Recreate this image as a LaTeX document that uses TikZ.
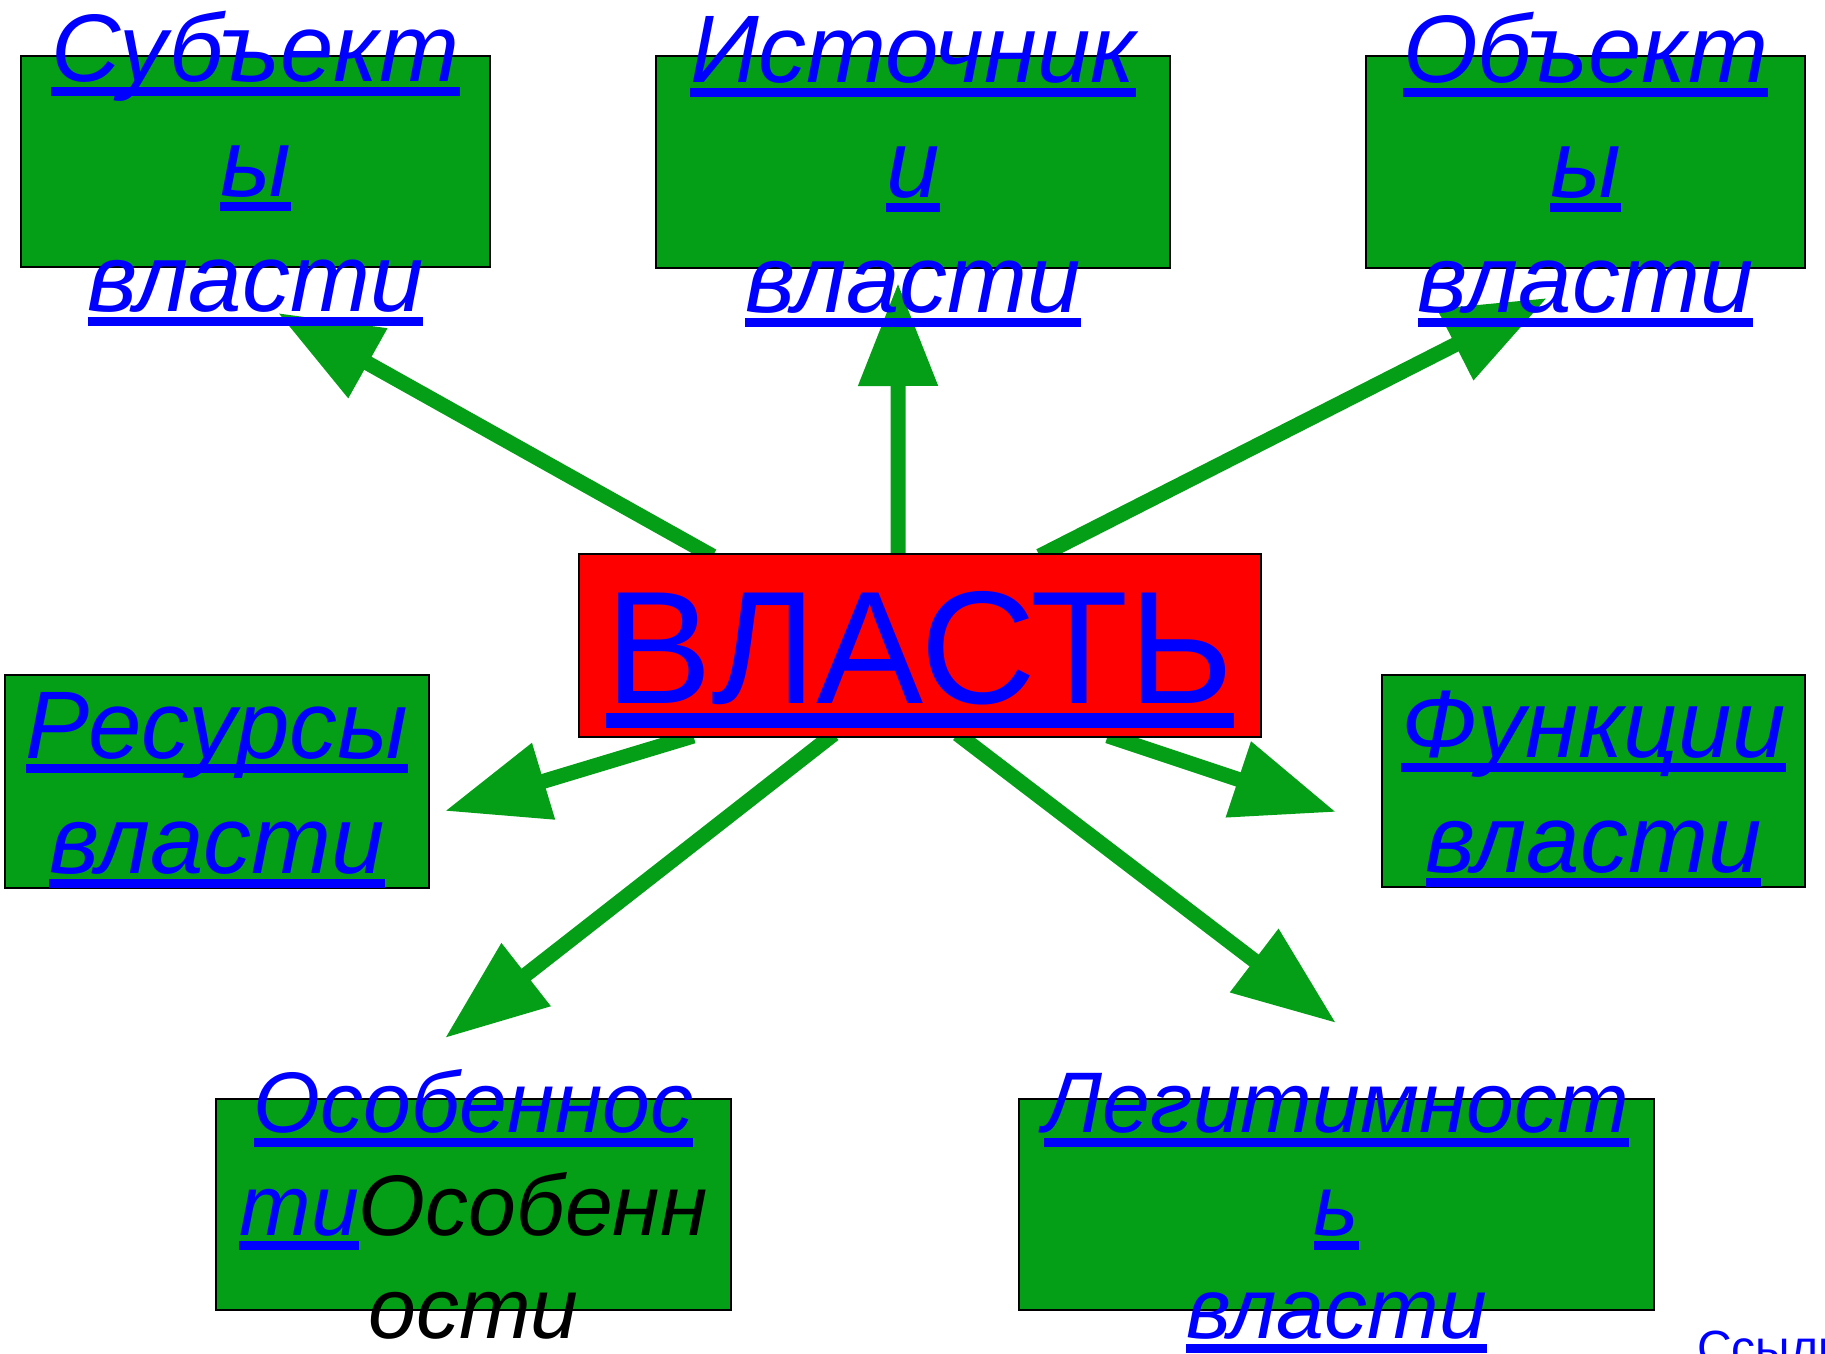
\documentclass[tikz,border=0pt]{standalone}
\usepackage{fontspec}
\setmainfont{Liberation Sans}
\usetikzlibrary{arrows.meta,calc,backgrounds}
\definecolor{grn}{RGB}{4,158,23}
\definecolor{lnkblue}{RGB}{0,0,255}
\newcommand{\lnk}[1]{\setbox0\hbox{#1}\rlap{\rule[-14.5pt]{\wd0}{9pt}}\box0}
\newcommand{\biglnk}[1]{\setbox0\hbox{#1}\rlap{\rule[-25pt]{\wd0}{15pt}}\box0}
\tikzset{
  box/.style 2 args={draw=black, line width=1.5pt, fill=grn, inner sep=0pt,
    minimum width=#1, minimum height=#2},
  lbl/.style={lnkblue, inner sep=0pt, align=center, anchor=base,
    font=\fontsize{96}{115}\selectfont\itshape},
  lblsmall/.style={lbl, font=\fontsize{86}{103}\selectfont\itshape},
  arr/.style={grn, line width=15pt, -{Triangle[length=103pt,width=76pt]},
    shorten <=-6pt}
}

\begin{document}
\begin{tikzpicture}[x=1pt, y=-1pt]
\useasboundingbox (0,0) rectangle (1825,1354);
% Boxes
    \node[box={469pt}{211pt}] (subj) at (255.5,161.5) {};
    \node[box={514pt}{212pt}] (ist) at (913,162) {};
    \node[box={439pt}{212pt}] (obj) at (1585.5,162) {};
    \node[box={424pt}{213pt}] (res) at (217,781.5) {};
    \node[box={423pt}{212pt}] (fun) at (1593.5,781) {};
    \node[box={515pt}{211pt}] (osob) at (473.5,1204.5) {};
    \node[box={635pt}{211pt}] (leg) at (1336.5,1204.5) {};
    \node[box={682pt}{183pt}, fill=red] (vl) at (920,645.5) {};
% Labels (base = last line)
    \node[lbl] (subjt) at ([yshift=-150pt]subj.center) {\lnk{Субъект}\\\lnk{ы}\\\lnk{власти}};
    \node[lbl] (istt) at ([yshift=-150pt]ist.center) {\lnk{Источник}\\\lnk{и}\\\lnk{власти}};
    \node[lbl] (objt) at ([yshift=-150pt]obj.center) {\lnk{Объект}\\\lnk{ы}\\\lnk{власти}};
    \node[lbl] (rest) at ([yshift=-91.5pt]res.center) {\lnk{Ресурсы}\\\lnk{власти}};
    \node[lbl] (funt) at ([yshift=-91.5pt]fun.center) {\lnk{Функции}\\\lnk{власти}};
    \node[lblsmall] (osobt) at ([yshift=-133.5pt]osob.center) {\lnk{Особеннос}\\\lnk{ти}{\color{black}Особенн}\\{\color{black}ости}};
    \node[lblsmall] (legt) at ([yshift=-133.5pt]leg.center) {\lnk{Легитимност}\\\lnk{ь}\\\lnk{власти}};
    \node[lnkblue, inner sep=0pt, anchor=base, font=\fontsize{160.6}{190}\selectfont] (vlt)
        at ([yshift=-57.5pt]vl.center) {\biglnk{ВЛАСТЬ}};
    \node[lnkblue, inner sep=0pt, anchor=base west, font=\fontsize{48}{58}\selectfont] (link)
        at (1697,1364) {Ссылки};
% Arrow tips
    \coordinate (tSubj) at (278,313);
    \coordinate (tIst) at (898,283);
    \coordinate (tObj) at (1547,298);
    \coordinate (tRes) at (445,811);
    \coordinate (tFun) at (1336,812);
    \coordinate (tOsob) at (445,1038);
    \coordinate (tLeg) at (1336,1023);
% Arrows
\begin{scope}[on background layer]
    \draw[arr] ($(vl.north west)!0.189!(vl.north east)$) -- (tSubj);
    \draw[arr] ($(vl.north west)!0.468!(vl.north east)$) -- (tIst);
    \draw[arr] ($(vl.north west)!0.683!(vl.north east)$) -- (tObj);
    \draw[arr] ($(vl.south west)!0.160!(vl.south east)$) -- (tRes);
    \draw[arr] ($(vl.south west)!0.783!(vl.south east)$) -- (tFun);
    \draw[arr] ($(vl.south west)!0.367!(vl.south east)$) -- (tOsob);
    \draw[arr] ($(vl.south west)!0.562!(vl.south east)$) -- (tLeg);
\end{scope}
\end{tikzpicture}
\end{document}
